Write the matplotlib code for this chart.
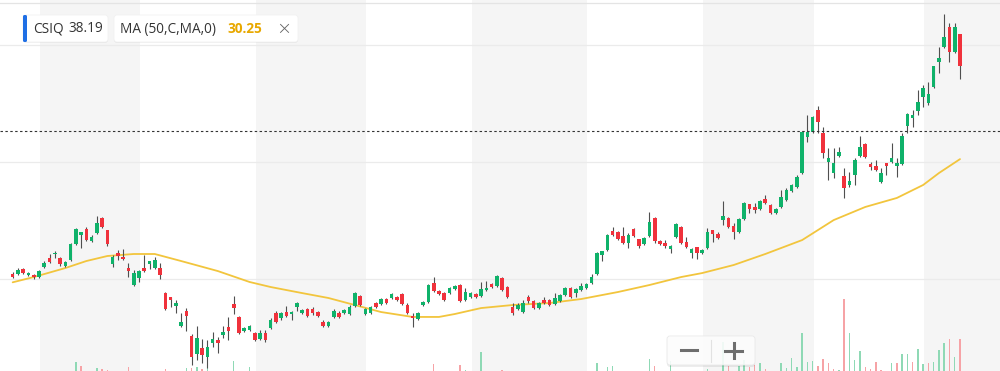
import matplotlib as mpl
mpl.use('Agg')
import matplotlib.pyplot as plt
from matplotlib.patches import FancyBboxPatch
from matplotlib.transforms import IdentityTransform
import numpy as np

# daily candles, CSIQ (end of Jan .. mid Oct)
opens = [20.43, 20.43, 20.86, 20.34, 20.34, 20.17, 21.03, 21.80, 22.14, 21.80,
         21.11, 21.62, 22.99, 23.76, 24.27, 23.24, 23.93, 25.21, 24.18, 21.28,
         22.22, 21.88, 20.94, 19.49, 20.09, 20.94, 21.28, 20.94, 20.94, 18.80,
         18.46, 17.69, 15.99, 17.26, 15.13, 13.59, 14.11, 13.34, 14.53, 14.79,
         15.22, 15.90, 17.87, 16.76, 15.56, 15.64, 15.39, 14.87, 15.39, 15.81,
         17.09, 16.67, 17.18, 17.01, 17.61, 17.09, 17.43, 17.43, 17.18, 16.33,
         16.01, 16.76, 17.09, 17.09, 17.01, 17.69, 18.55, 17.01, 17.09, 17.95,
         17.87, 18.29, 18.38, 18.46, 18.72, 17.78, 16.84, 16.59, 17.78, 18.04,
         19.66, 18.97, 18.80, 18.80, 19.15, 19.49, 18.21, 18.46, 18.72, 18.55,
         19.06, 19.58, 19.41, 20.09, 19.32, 17.61, 17.43, 17.18, 18.46, 18.12,
         17.52, 18.21, 18.21, 17.87, 18.12, 18.63, 19.24, 18.80, 19.06, 19.24,
         19.66, 20.43, 22.05, 22.48, 24.10, 24.01, 23.67, 23.07, 24.27, 23.41,
         22.99, 23.67, 25.21, 23.24, 23.07, 22.56, 23.59, 24.44, 23.16, 22.22,
         22.74, 22.22, 22.65, 24.18, 23.84, 25.04, 25.21, 24.53, 24.01, 25.13,
         26.41, 26.16, 25.99, 26.84, 26.33, 25.64, 26.16, 26.76, 27.52, 27.87,
         29.06, 32.14, 32.57, 34.45, 32.48, 30.01, 29.06, 30.52, 28.81, 28.04,
         28.89, 30.52, 31.54, 29.83, 29.66, 28.29, 29.92, 30.01, 29.66, 29.83,
         33.08, 33.76, 34.36, 35.56, 35.05, 36.41, 38.55, 39.83, 41.54, 39.41,
         40.94]
highs = [20.60, 20.94, 20.94, 20.60, 20.43, 20.77, 21.54, 22.14, 22.39, 21.85,
         21.54, 23.07, 24.35, 24.05, 24.44, 23.76, 25.38, 25.29, 24.22, 22.05,
         22.48, 22.56, 21.37, 20.77, 20.77, 22.05, 21.58, 21.88, 21.37, 18.89,
         18.50, 18.21, 17.09, 17.52, 15.30, 15.99, 14.87, 14.79, 15.47, 15.04,
         15.99, 16.76, 18.55, 16.84, 15.90, 16.07, 15.47, 15.64, 15.64, 16.67,
         17.26, 17.18, 17.69, 17.26, 18.04, 17.43, 17.52, 17.61, 17.26, 16.50,
         16.41, 17.43, 17.26, 17.43, 17.78, 18.89, 18.63, 17.52, 17.69, 18.04,
         18.38, 18.38, 18.80, 18.55, 18.80, 17.95, 17.09, 17.18, 18.12, 19.58,
         20.17, 19.06, 18.89, 19.32, 19.49, 19.58, 19.24, 18.89, 18.80, 19.75,
         19.83, 19.66, 20.34, 20.17, 19.41, 17.95, 17.95, 18.21, 18.63, 18.21,
         18.04, 18.46, 18.29, 18.80, 18.72, 19.32, 19.32, 19.24, 19.66, 19.66,
         20.43, 22.31, 22.42, 23.85, 24.44, 24.10, 24.44, 23.93, 24.35, 23.45,
         23.59, 25.73, 25.29, 23.33, 23.33, 22.91, 24.78, 24.53, 23.59, 22.65,
         22.78, 22.56, 24.35, 24.22, 24.01, 26.67, 25.29, 24.78, 25.21, 26.59,
         26.45, 26.50, 26.76, 27.18, 26.41, 26.07, 27.61, 27.78, 28.13, 28.89,
         32.65, 34.02, 33.93, 34.79, 32.99, 31.20, 31.20, 31.29, 29.49, 29.15,
         30.35, 32.23, 31.63, 30.01, 30.17, 29.49, 29.96, 31.63, 30.35, 32.48,
         34.15, 34.45, 36.16, 36.58, 36.84, 38.25, 39.83, 42.65, 41.88, 41.88,
         40.98]
lows = [20.09, 20.34, 20.43, 20.26, 20.00, 20.09, 20.98, 21.37, 21.80, 21.11,
        21.03, 21.54, 22.91, 22.65, 23.24, 23.16, 23.85, 24.35, 22.82, 21.03,
        21.62, 21.62, 20.17, 19.41, 19.75, 20.60, 20.86, 20.90, 20.00, 17.35,
        17.61, 17.09, 15.90, 15.56, 12.65, 13.08, 12.82, 12.40, 14.19, 13.68,
        14.96, 14.79, 17.01, 15.30, 15.47, 15.56, 14.70, 14.83, 14.62, 15.73,
        16.24, 16.50, 16.76, 16.50, 17.26, 17.01, 16.76, 16.93, 16.76, 15.90,
        15.90, 16.67, 16.67, 17.01, 16.93, 17.61, 17.69, 16.93, 17.01, 17.52,
        17.78, 17.87, 18.29, 18.12, 17.78, 17.01, 15.90, 16.50, 17.69, 17.95,
        18.89, 18.63, 18.12, 18.72, 19.06, 18.04, 18.12, 18.38, 18.38, 18.46,
        18.97, 19.24, 19.32, 18.97, 18.38, 16.93, 17.35, 17.09, 17.95, 17.43,
        17.43, 17.87, 17.69, 17.78, 18.04, 18.55, 18.38, 18.46, 18.97, 19.15,
        19.58, 20.34, 21.54, 22.39, 23.67, 23.33, 22.99, 22.65, 23.59, 22.65,
        22.91, 23.59, 23.07, 22.91, 22.65, 22.22, 23.50, 22.99, 22.65, 21.80,
        21.71, 22.14, 22.56, 23.16, 23.41, 24.61, 24.35, 23.41, 23.93, 25.04,
        25.64, 25.64, 25.90, 26.41, 25.56, 25.56, 26.07, 26.67, 27.44, 27.78,
        28.98, 31.71, 32.48, 32.48, 30.35, 28.47, 28.64, 30.43, 26.93, 27.87,
        28.04, 30.43, 30.35, 29.32, 29.23, 28.21, 28.89, 29.92, 28.72, 29.75,
        32.48, 32.99, 34.02, 34.70, 34.88, 36.33, 37.61, 39.75, 38.55, 39.32,
        37.10]
closes = [20.17, 20.77, 20.51, 20.51, 20.17, 20.68, 21.37, 21.45, 22.22, 21.28,
          21.45, 22.99, 24.27, 24.01, 23.33, 23.59, 24.78, 24.44, 22.99, 21.88,
          21.97, 21.71, 20.68, 20.51, 20.68, 20.68, 21.54, 21.62, 20.34, 17.43,
          18.21, 17.95, 16.33, 16.84, 13.34, 14.96, 13.51, 14.19, 14.87, 14.53,
          15.47, 15.56, 17.52, 15.39, 15.81, 15.99, 14.79, 15.39, 14.79, 16.50,
          16.33, 17.09, 16.84, 17.18, 17.95, 17.35, 16.84, 17.09, 16.84, 15.99,
          16.33, 17.26, 16.76, 17.35, 17.61, 18.80, 17.78, 17.43, 17.61, 17.61,
          18.29, 17.95, 18.72, 18.21, 17.87, 17.09, 16.67, 17.09, 18.04, 19.49,
          18.97, 18.72, 18.21, 19.24, 19.41, 18.12, 18.89, 18.80, 18.46, 19.15,
          19.24, 19.32, 20.26, 19.06, 18.46, 17.09, 17.78, 17.95, 18.12, 17.52,
          17.95, 17.95, 17.78, 18.38, 18.63, 19.24, 18.46, 19.15, 19.41, 19.58,
          20.17, 22.22, 22.39, 23.76, 23.76, 23.41, 23.07, 23.76, 23.67, 22.82,
          23.50, 24.87, 23.24, 22.99, 22.82, 22.82, 24.70, 23.07, 22.74, 22.56,
          22.22, 22.48, 24.01, 23.84, 23.50, 25.38, 24.44, 24.01, 25.13, 26.50,
          25.99, 25.90, 26.67, 26.50, 25.64, 25.99, 27.01, 27.61, 28.04, 28.72,
          32.57, 32.57, 33.85, 33.42, 30.77, 30.35, 29.92, 30.86, 27.78, 28.38,
          30.17, 31.29, 30.43, 29.58, 29.32, 29.06, 29.66, 30.35, 29.92, 32.23,
          34.11, 34.02, 35.13, 36.33, 35.81, 38.21, 38.89, 40.69, 39.41, 41.54,
          38.19]
# volume in millions (most days are below the visible strip)
volumes = [1.6, 1.4, 1.3, 1.2, 1.5, 1.4, 1.6, 1.7, 1.5, 1.6,
           1.4, 1.9, 2.32, 2.16, 1.8, 1.5, 2.08, 2.04, 2.0, 1.9,
           1.7, 1.6, 2.12, 1.9, 1.7, 1.8, 1.6, 1.5, 1.7, 2.04,
           1.9, 1.8, 1.9, 2.08, 2.1, 2.12, 2.04, 2.12, 1.9, 1.7,
           1.6, 1.8, 2.36, 1.9, 1.6, 2.12, 1.7, 1.5, 1.6, 1.8,
           1.5, 1.4, 1.5, 1.4, 1.6, 1.3, 1.4, 1.3, 1.5, 1.6,
           1.4, 1.7, 1.4, 1.3, 1.5, 1.9, 1.8, 1.6, 1.5, 1.4,
           1.3, 1.4, 1.3, 1.5, 1.6, 1.7, 1.8, 1.6, 1.7, 1.9,
           2.24, 1.8, 1.7, 1.6, 1.5, 2.2, 2.0, 1.6, 1.5, 2.72,
           1.9, 1.7, 1.6, 2.0, 1.8, 1.9, 1.6, 1.5, 1.4, 1.5,
           1.4, 1.3, 1.5, 1.6, 1.4, 1.5, 1.4, 1.5, 1.6, 1.7,
           1.8, 2.28, 1.9, 2.12, 2.16, 1.8, 1.7, 1.8, 1.6, 1.5,
           1.7, 2.44, 2.16, 1.8, 1.6, 2.36, 1.7, 1.9, 1.8, 1.6,
           1.7, 1.8, 2.04, 1.9, 1.7, 3.12, 2.16, 1.9, 2.16, 2.4,
           2.12, 2.2, 2.28, 2.04, 1.9, 1.8, 2.28, 2.08, 2.48, 2.12,
           3.48, 2.32, 2.36, 2.16, 2.44, 2.28, 2.04, 2.0, 4.84, 3.48,
           2.4, 2.76, 2.12, 2.04, 2.32, 2.0, 1.9, 2.28, 2.28, 2.64,
           2.64, 2.32, 2.84, 2.24, 2.28, 2.32, 2.8, 3.08, 3.24, 2.52,
           3.24]

# MA(50) at some candles
ma_idx = [0, 4, 10, 14, 18, 23, 27, 32, 39, 45, 49, 55, 60, 65, 70, 76, 81, 84,
          89, 95, 102, 108, 115, 121, 127, 131, 137, 143, 150, 156, 162, 168,
          173, 176, 180]
ma_val = [19.72, 20.17, 20.94, 21.54, 21.97, 22.14, 22.14, 21.54, 20.68, 19.75,
          19.32, 18.80, 18.38, 17.78, 17.18, 16.76, 16.76, 17.01, 17.52, 17.78,
          17.95, 18.29, 18.89, 19.49, 20.17, 20.51, 21.20, 22.14, 23.33, 25.04,
          26.16, 26.93, 28.04, 29.06, 30.25]

month_starts = [6, 25, 47, 68, 88, 110, 132, 153, 174]
last_ref = 32.65   # dotted reference price line
grid_levels = [20, 30, 40]

GREEN = '#0fb26a'
RED = '#f0323c'
VGREEN = '#8fd9b5'
VRED = '#f6a3a6'
MA_COL = '#f2c53d'

n = len(closes)
x = np.arange(n)
o = np.array(opens); c = np.array(closes)
h = np.array(highs); l = np.array(lows)

fig = plt.figure(figsize=(10, 3.71), dpi=100)
axv = fig.add_axes([0, 0, 1, 1])
ax = fig.add_axes([0, 0, 1, 1], sharex=axv)
ax.patch.set_visible(False)
for a in (ax, axv):
    a.set_axis_off()

ax.set_xlim(-2.41, 187.6)
ax.set_ylim(12.14, 43.85)
axv.set_ylim(1.96, 16.8)

# month bands
edges = [s - 0.8 for s in month_starts] + [190]
for k in range(0, len(edges) - 1, 2):
    axv.axvspan(edges[k], edges[k + 1], color='#f5f5f5', lw=0, zorder=0)

# volume, coloured by close vs previous close
vup = np.r_[True, c[1:] >= c[:-1]]
axv.bar(x, volumes, width=0.28, color=np.where(vup, VGREEN, VRED), lw=0, zorder=2)

# grid
for g in grid_levels:
    ax.axhline(g, color='#ebebeb', lw=0.9, zorder=1)
ax.axhline(43.6, color='#e4e4e4', lw=0.9, zorder=1)

ax.plot(ma_idx, ma_val, color=MA_COL, lw=1.3, zorder=3, solid_capstyle='round',
        solid_joinstyle='round')

up = c >= o
ax.vlines(x, l, h, color='#4f4f4f', lw=0.8, zorder=4)
body = np.maximum(np.abs(c - o), 0.12)
ax.bar(x, body, bottom=np.minimum(o, c), width=0.68,
       color=np.where(up, GREEN, RED), lw=0, zorder=5)

ax.axhline(last_ref, color='#333333', lw=0.8, ls=(0, (2.2, 2.2)), zorder=6)

# legend chips (pixel coords, origin bottom-left)
T = IdentityTransform()
H = 371

def chip(x0, x1, y0, y1):
    sh = FancyBboxPatch((x0, H - y1 - 1), x1 - x0, y1 - y0,
                        boxstyle='round,pad=0,rounding_size=3', transform=T,
                        fc='#000000', alpha=0.05, lw=0, zorder=9)
    fig.patches.append(sh)
    p = FancyBboxPatch((x0, H - y1), x1 - x0, y1 - y0,
                       boxstyle='round,pad=0,rounding_size=3', transform=T,
                       fc='white', ec='#f0f0f0', lw=0.5, zorder=10)
    fig.patches.append(p)

chip(23, 108, 15, 42)
acc = FancyBboxPatch((23, H - 42), 4, 27, boxstyle='round,pad=0,rounding_size=1.5',
                     transform=T, fc='#1f6fe5', lw=0, zorder=11)
fig.patches.append(acc)
chip(114, 298, 15, 42)

fs = 9.8
fam = ['Open Sans', 'DejaVu Sans']
ty = H - 29
fig.text(33, ty, 'CSIQ', transform=T, fontsize=fs, family=fam, color='#333333',
         va='center', zorder=12)
fig.text(68.5, ty, '38.19', transform=T, fontsize=fs, family=fam, color='#333333',
         va='center', zorder=12)
fig.text(119.5, ty, 'MA (50,C,MA,0)', transform=T, fontsize=fs, family=fam,
         color='#333333', va='center', zorder=12)
fig.text(227, ty, '30.25', transform=T, fontsize=fs, family=fam, color='#e8a800',
         fontweight='bold', va='center', zorder=12)
fig.text(284, ty, '\u00d7', transform=T, fontsize=13, family=['DejaVu Sans'],
         color='#666666', va='center', ha='center', fontweight='light', zorder=12)

# zoom buttons
sh = FancyBboxPatch((667, H - 367), 88, 30, boxstyle='round,pad=0,rounding_size=3',
                    transform=T, fc='#000000', alpha=0.07, lw=0, zorder=9)
fig.patches.append(sh)
btn = FancyBboxPatch((667, H - 365), 88, 29, boxstyle='round,pad=0,rounding_size=3',
                     transform=T, fc='white', alpha=0.88, ec='#e6e6e6', lw=0.6, zorder=10)
fig.patches.append(btn)
fig.lines.append(plt.Line2D([711, 711], [H - 362, H - 340], transform=T,
                            color='#e2e2e2', lw=0.8, zorder=11))
fig.lines.append(plt.Line2D([681, 697], [H - 350, H - 350], transform=T,
                            color='#6e6e6e', lw=2.2, zorder=11))
fig.lines.append(plt.Line2D([725, 742], [H - 350.5, H - 350.5], transform=T,
                            color='#6e6e6e', lw=2.2, zorder=11))
fig.lines.append(plt.Line2D([733.5, 733.5], [H - 358, H - 343], transform=T,
                            color='#6e6e6e', lw=2.2, zorder=11))

fig.savefig('out.png', dpi=100)
